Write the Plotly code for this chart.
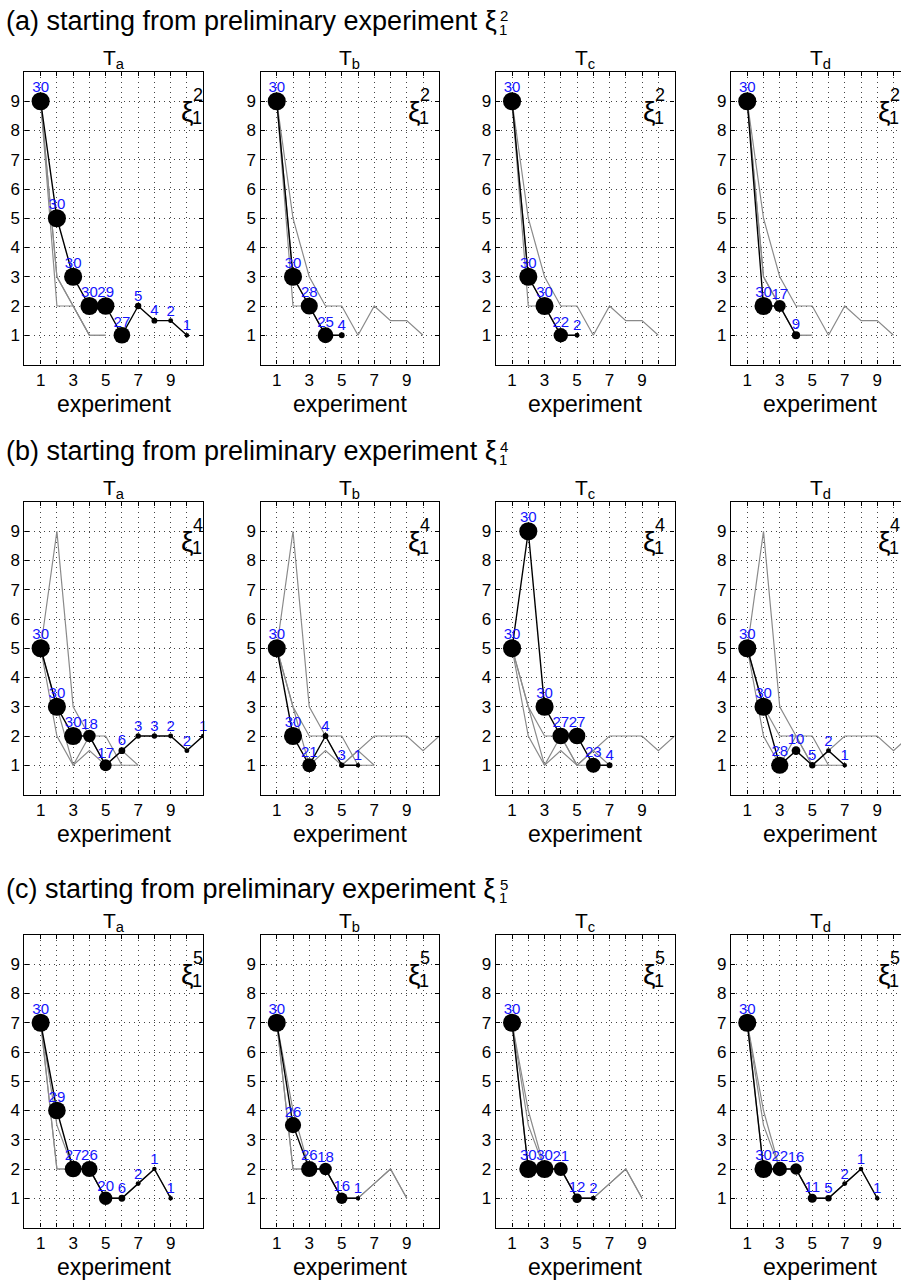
import math
import plotly.graph_objects as go

FONT = "Liberation Sans, Arial, Helvetica, sans-serif"
W, H = 901, 1282

row_labels = ["(a)", "(b)", "(c)"]
row_prelim = ["2", "4", "5"]
task_subs = ["a", "b", "c", "d"]

# ---- data: objective value per experiment, and number of runs (labels) ----
# (a) starting from preliminary experiment xi_1^2
a_Ta_y = [9, 5, 3, 2, 2, 1, 2, 1.5, 1.5, 1]
a_Ta_n = [30, 30, 30, 30, 29, 27, 5, 4, 2, 1]
a_Tb_y = [9, 3, 2, 1, 1]
a_Tb_n = [30, 30, 28, 25, 4]
a_Tc_y = [9, 3, 2, 1, 1]
a_Tc_n = [30, 30, 30, 22, 2]
a_Td_y = [9, 2, 2, 1]
a_Td_n = [30, 30, 17, 9]
# (b) starting from preliminary experiment xi_1^4
b_Ta_y = [5, 3, 2, 2, 1, 1.5, 2, 2, 2, 1.5, 2, 2, 1.5, 1]
b_Ta_n = [30, 30, 30, 18, 17, 6, 3, 3, 2, 2, 1, 1, 1, 1]
b_Tb_y = [5, 2, 1, 2, 1, 1]
b_Tb_n = [30, 30, 21, 4, 3, 1]
b_Tc_y = [5, 9, 3, 2, 2, 1, 1]
b_Tc_n = [30, 30, 30, 27, 27, 23, 4]
b_Td_y = [5, 3, 1, 1.5, 1, 1.5, 1]
b_Td_n = [30, 30, 28, 10, 5, 2, 1]
# (c) starting from preliminary experiment xi_1^5
c_Ta_y = [7, 4, 2, 2, 1, 1, 1.5, 2, 1]
c_Ta_n = [30, 29, 27, 26, 20, 6, 2, 1, 1]
c_Tb_y = [7, 3.5, 2, 2, 1, 1]
c_Tb_n = [30, 26, 26, 18, 16, 1]
c_Tc_y = [7, 2, 2, 2, 1, 1]
c_Tc_n = [30, 30, 30, 21, 12, 2]
c_Td_y = [7, 2, 2, 2, 1, 1, 1.5, 2, 1]
c_Td_n = [30, 30, 22, 16, 11, 5, 2, 1, 1]

rows = [
    [(a_Ta_y, a_Ta_n), (a_Tb_y, a_Tb_n), (a_Tc_y, a_Tc_n), (a_Td_y, a_Td_n)],
    [(b_Ta_y, b_Ta_n), (b_Tb_y, b_Tb_n), (b_Tc_y, b_Tc_n), (b_Td_y, b_Td_n)],
    [(c_Ta_y, c_Ta_n), (c_Tb_y, c_Tb_n), (c_Tc_y, c_Tc_n), (c_Td_y, c_Td_n)],
]

x_tickvals = list(range(1, 11))
x_ticktext = [str(v) if v % 2 == 1 else "" for v in x_tickvals]
y_tickvals = list(range(1, 10))
x_label = "experiment"

# ---- geometry (pixels) ----
col_left = [24.4, 260.5, 495.8, 731.0]
row_top = [72.0, 502.0, 935.0]
title_yc = [21.0, 451.0, 889.0]
PX_X, PX_Y = 16.25, 29.25
X_SPAN, Y_SPAN = 11, 10

def px2x(px):
    return px / W

def px2y(py):
    return 1 - py / H

def mdiam(n):
    return 4 + 0.47 * n

def loff(n):
    return max(0.24 * n - 0.19, 0.02)

fig = go.Figure()
ann = []
lay = {}
for r in range(3):
    for c in range(4):
        k = r * 4 + c + 1
        xn = "x" if k == 1 else f"x{k}"
        yn = "y" if k == 1 else f"y{k}"
        left = col_left[c]
        full_right = left + X_SPAN * PX_X
        right = min(full_right, W)
        top = row_top[r]
        bottom = top + Y_SPAN * PX_Y
        clipped = full_right > W
        common = dict(showline=True, linecolor="black", linewidth=1.3,
                      ticks="inside", ticklen=4, tickcolor="black", tickwidth=1,
                      showgrid=True, gridcolor="#444", gridwidth=1, griddash="1px,4px",
                      zeroline=False, tickfont=dict(family=FONT, size=17, color="black"),
                      fixedrange=True)
        lay[f"xaxis{k}"] = dict(common, domain=[px2x(left), px2x(right)],
                                range=[0, (right - left) / PX_X], anchor=yn,
                                tickmode="array", tickvals=x_tickvals, ticktext=x_ticktext,
                                mirror="ticks")
        lay[f"yaxis{k}"] = dict(common, domain=[px2y(bottom), px2y(top)],
                                range=[0, Y_SPAN], anchor=xn,
                                tickmode="array", tickvals=y_tickvals,
                                mirror=False if clipped else "ticks")
        # other tasks in grey
        for cc in range(4):
            if cc == c:
                continue
            yy, nn = rows[r][cc]
            fig.add_trace(go.Scatter(x=list(range(1, len(yy) + 1)), y=yy, xaxis=xn, yaxis=yn,
                                     mode="lines", line=dict(color="#8a8a8a", width=1.2),
                                     hoverinfo="skip", showlegend=False))
        yy, nn = rows[r][c]
        xs = list(range(1, len(yy) + 1))
        fig.add_trace(go.Scatter(x=xs, y=yy, xaxis=xn, yaxis=yn, mode="lines+markers",
                                 line=dict(color="black", width=1.4),
                                 marker=dict(color="black", opacity=1,
                                             size=[mdiam(v) for v in nn],
                                             line=dict(width=0)),
                                 hoverinfo="skip", showlegend=False))
        fig.add_trace(go.Scatter(x=xs, y=yy, xaxis=xn, yaxis=yn, mode="markers+text",
                                 text=[str(v) for v in nn], textposition="top center",
                                 textfont=dict(family=FONT, size=15, color="#1414ff"),
                                 marker=dict(color="rgba(0,0,0,0)", opacity=0,
                                             size=[loff(v) for v in nn], line=dict(width=0)),
                                 cliponaxis=False, hoverinfo="skip", showlegend=False))
        # panel title
        ann.append(dict(text=f"T<sub>{task_subs[c]}</sub>", xref="paper", yref="paper",
                        x=px2x(left + X_SPAN * PX_X / 2), y=px2y(top - 13),
                        xanchor="center", yanchor="middle", showarrow=False,
                        font=dict(family=FONT, size=21, color="black")))
        # x label
        ann.append(dict(text=x_label, xref="paper", yref="paper",
                        x=px2x(left + X_SPAN * PX_X / 2), y=px2y(bottom + 39),
                        xanchor="center", yanchor="middle", showarrow=False,
                        font=dict(family=FONT, size=23, color="black")))
        # xi label inside panel
        xi_x = 9.5 if c == 0 else 8.95
        ann.append(dict(text="ξ", xref=xn, yref=yn, x=xi_x, y=8.65, xanchor="left",
                        yanchor="middle", showarrow=False,
                        font=dict(family=FONT, size=28, color="black")))
        ann.append(dict(text=row_prelim[r], xref=xn, yref=yn, x=xi_x, y=8.65, xanchor="left",
                        yanchor="middle", xshift=12, yshift=16.5, showarrow=False,
                        font=dict(family=FONT, size=18, color="black")))
        ann.append(dict(text="1", xref=xn, yref=yn, x=xi_x, y=8.65, xanchor="left",
                        yanchor="middle", xshift=11, yshift=-7, showarrow=False,
                        font=dict(family=FONT, size=18, color="black")))
    # row title
    ann.append(dict(text=f"{row_labels[r]} starting from preliminary experiment ξ",
                    xref="paper", yref="paper", x=px2x(3.5), y=px2y(title_yc[r]),
                    xanchor="left", yanchor="middle", showarrow=False,
                    font=dict(family=FONT, size=27, color="black")))
    ann.append(dict(text=row_prelim[r], xref="paper", yref="paper", x=px2x(498),
                    y=px2y(title_yc[r] - 5), xanchor="left", yanchor="middle", showarrow=False,
                    font=dict(family=FONT, size=15, color="black")))
    ann.append(dict(text="1", xref="paper", yref="paper", x=px2x(497),
                    y=px2y(title_yc[r] + 8), xanchor="left", yanchor="middle", showarrow=False,
                    font=dict(family=FONT, size=15, color="black")))

fig.update_layout(width=W, height=H, margin=dict(l=0, r=0, t=0, b=0),
                  paper_bgcolor="white", plot_bgcolor="white",
                  annotations=ann, showlegend=False, **lay)
fig.write_html("out.html")
